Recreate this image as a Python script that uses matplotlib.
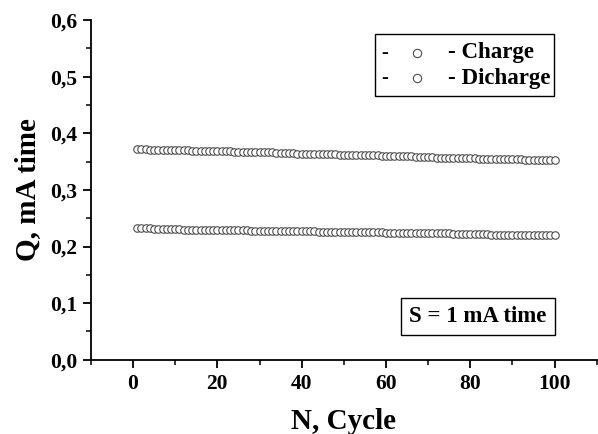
import matplotlib
matplotlib.use("Agg")
import matplotlib.pyplot as plt
from matplotlib.patches import Rectangle
from matplotlib.ticker import MultipleLocator, FuncFormatter

cycles = list(range(1, 101))
charge = [
    0.372, 0.372, 0.372, 0.371, 0.371, 0.371, 0.371, 0.371, 0.370, 0.370,
    0.370, 0.370, 0.370, 0.369, 0.369, 0.369, 0.369, 0.369, 0.368, 0.368,
    0.368, 0.368, 0.368, 0.367, 0.367, 0.367, 0.367, 0.367, 0.366, 0.366,
    0.366, 0.366, 0.366, 0.365, 0.365, 0.365, 0.365, 0.365, 0.364, 0.364,
    0.364, 0.364, 0.364, 0.363, 0.363, 0.363, 0.363, 0.363, 0.362, 0.362,
    0.362, 0.362, 0.362, 0.361, 0.361, 0.361, 0.361, 0.361, 0.360, 0.360,
    0.360, 0.360, 0.359, 0.359, 0.359, 0.359, 0.358, 0.358, 0.358, 0.358,
    0.358, 0.357, 0.357, 0.357, 0.357, 0.357, 0.356, 0.356, 0.356, 0.356,
    0.356, 0.355, 0.355, 0.355, 0.355, 0.355, 0.354, 0.354, 0.354, 0.354,
    0.354, 0.354, 0.353, 0.353, 0.353, 0.353, 0.353, 0.353, 0.353, 0.353,
]
discharge = [
    0.232, 0.232, 0.232, 0.232, 0.231, 0.231, 0.231, 0.231, 0.231, 0.231,
    0.231, 0.230, 0.230, 0.230, 0.230, 0.230, 0.230, 0.230, 0.230, 0.229,
    0.229, 0.229, 0.229, 0.229, 0.229, 0.229, 0.229, 0.228, 0.228, 0.228,
    0.228, 0.228, 0.228, 0.228, 0.228, 0.227, 0.227, 0.227, 0.227, 0.227,
    0.227, 0.227, 0.227, 0.226, 0.226, 0.226, 0.226, 0.226, 0.226, 0.226,
    0.226, 0.225, 0.225, 0.225, 0.225, 0.225, 0.225, 0.225, 0.225, 0.224,
    0.224, 0.224, 0.224, 0.224, 0.224, 0.224, 0.224, 0.223, 0.223, 0.223,
    0.223, 0.223, 0.223, 0.223, 0.223, 0.222, 0.222, 0.222, 0.222, 0.222,
    0.222, 0.222, 0.222, 0.222, 0.221, 0.221, 0.221, 0.221, 0.221, 0.221,
    0.221, 0.221, 0.221, 0.221, 0.221, 0.221, 0.221, 0.221, 0.221, 0.221,
]
legend_labels = ["- Charge", "- Dicharge"]
note = "S = 1 mA time"

plt.rcParams["font.family"] = ["Liberation Serif", "DejaVu Serif"]
plt.rcParams["font.weight"] = "bold"

fig = plt.figure(figsize=(5.98, 4.34), dpi=100)
ax = fig.add_axes([0.152, 0.171, 0.846, 0.783])

mk = dict(ls="none", marker="o", ms=5.4, mfc="white", mec="#4d4d4d", mew=0.8)
ax.plot(cycles, charge, **mk)
ax.plot(cycles, discharge, **mk)

ax.set_xlim(-10, 110)
ax.set_ylim(0, 0.6)
ax.xaxis.set_major_locator(MultipleLocator(20))
ax.xaxis.set_minor_locator(MultipleLocator(10))
ax.yaxis.set_major_locator(MultipleLocator(0.1))
ax.yaxis.set_minor_locator(MultipleLocator(0.05))
ax.yaxis.set_major_formatter(FuncFormatter(lambda v, p: f"{v:.1f}".replace(".", ",")))
for s in ["top", "right"]:
    ax.spines[s].set_visible(False)
for s in ["left", "bottom"]:
    ax.spines[s].set_linewidth(1.3)
ax.tick_params(which="major", direction="out", length=6, width=1.3, labelsize=15.5, pad=4)
ax.tick_params(which="minor", direction="out", length=3.5, width=1.1)
for lab in ax.get_xticklabels() + ax.get_yticklabels():
    lab.set_fontweight("bold")

ax.set_xlabel("N, Cycle", fontsize=21, fontweight="bold", labelpad=10)
ax.set_ylabel("Q, mA time", fontsize=21, fontweight="bold", labelpad=6)

# legend box drawn by hand
ax.add_patch(Rectangle((0.561, 0.776), 0.354, 0.182,
                       transform=ax.transAxes, fill=False, lw=1.0, ec="black"))
rows_y = [0.903, 0.829]
for y, lab in zip(rows_y, legend_labels):
    ax.text(0.581, y, "-", transform=ax.transAxes, fontsize=15, va="center", ha="center")
    ax.plot([0.644], [y], transform=ax.transAxes, marker="o", ms=6, mfc="white",
            mec="#4d4d4d", mew=0.8, ls="none", clip_on=False)
    ax.text(0.706, y, lab, transform=ax.transAxes, fontsize=16.5, fontweight="bold", va="center")

ax.text(0.765, 0.128, note, transform=ax.transAxes, fontsize=16.5, fontweight="bold",
        va="center", ha="center",
        bbox=dict(boxstyle="square,pad=0.35", fc="white", ec="black", lw=1.0))

fig.savefig("out.png", dpi=100)
